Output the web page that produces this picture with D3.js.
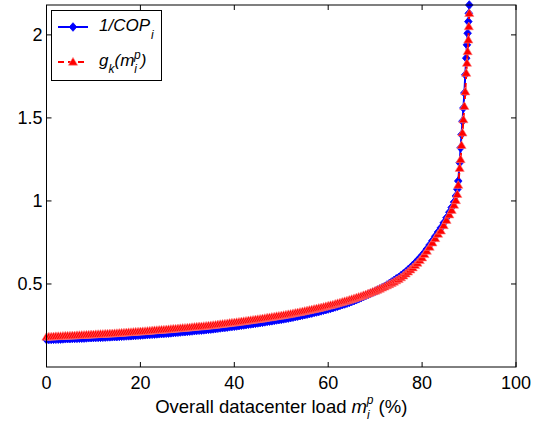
<!DOCTYPE html>
<html>
<head>
<meta charset="utf-8">
<script src="https://cdn.jsdelivr.net/npm/d3@7"></script>
<style>
  body { margin: 0; background: #fff; }
  text { font-family: "Liberation Sans", Arial, sans-serif; }
</style>
</head>
<body>
<script>
// overall datacenter load (%) at each sample
const load = [
  0, 0.5, 1, 1.5, 2, 2.5, 3, 3.5, 4, 4.5,
  5, 5.5, 6, 6.5, 7, 7.5, 8, 8.5, 9, 9.5,
  10, 10.5, 11, 11.5, 12, 12.5, 13, 13.5, 14, 14.5,
  15, 15.5, 16, 16.5, 17, 17.5, 18, 18.5, 19, 19.5,
  20, 20.5, 21, 21.5, 22, 22.5, 23, 23.5, 24, 24.5,
  25, 25.5, 26, 26.5, 27, 27.5, 28, 28.5, 29, 29.5,
  30, 30.5, 31, 31.5, 32, 32.5, 33, 33.5, 34, 34.5,
  35, 35.5, 36, 36.5, 37, 37.5, 38, 38.5, 39, 39.5,
  40, 40.5, 41, 41.5, 42, 42.5, 43, 43.5, 44, 44.5,
  45, 45.5, 46, 46.5, 47, 47.5, 48, 48.5, 49, 49.5,
  50, 50.5, 51, 51.5, 52, 52.5, 53, 53.5, 54, 54.5,
  55, 55.5, 56, 56.5, 57, 57.5, 58, 58.5, 59, 59.5,
  60, 60.5, 61, 61.5, 62, 62.5, 63, 63.5, 64, 64.5,
  65, 65.5, 66, 66.5, 67, 67.5, 68, 68.5, 69, 69.5,
  70, 70.5, 71, 71.5, 72, 72.5, 73, 73.5, 74, 74.5,
  75, 75.5, 76, 76.5, 77, 77.5, 78, 78.5, 79, 79.5,
  80,
  80.5, 81, 81.6, 82.2, 82.8, 83.4, 84, 84.6, 85.2, 85.8, 86.3, 86.8, 87.2, 87.5,
  87.7, 88, 88.2, 88.4, 88.6, 88.8, 89, 89.2, 89.4, 89.55, 89.7, 89.85, 89.95, 90.05
];

// 1/COP_i
const invCOP = [
  .165, .1655, .166, .1665, .167, .1675, .168, .169, .170, .1705,
  .171, .1715, .172, .1725, .173, .1735, .174, .175, .176, .1765,
  .177, .1775, .178, .1785, .179, .180, .181, .1815, .182, .1825,
  .183, .184, .185, .186, .187, .1875, .188, .189, .190, .191,
  .192, .193, .194, .195, .196, .197, .198, .199, .200, .201,
  .202, .203, .204, .2055, .207, .208, .209, .2105, .212, .213,
  .214, .2155, .217, .2185, .220, .221, .222, .2235, .225, .2265,
  .228, .2295, .231, .233, .235, .2365, .238, .240, .242, .2435,
  .245, .247, .249, .251, .253, .255, .257, .259, .261, .263,
  .265, .267, .269, .2715, .274, .276, .278, .2805, .283, .285,
  .287, .2895, .292, .2945, .297, .300, .303, .306, .309, .312,
  .315, .318, .321, .3245, .328, .331, .334, .338, .342, .3455,
  .349, .353, .357, .3615, .366, .3705, .375, .3795, .384, .389,
  .394, .3995, .405, .411, .417, .4235, .430, .4365, .443, .4495,
  .456, .463, .470, .4775, .485, .4935, .502, .5115, .521, .531,
  .539, .550, .561, .572, .585, .598, .612, .626, .641, .656,
  .672,
  .690, .710, .735, .761, .787, .813, .838, .868, .899, .932, .961, .993, 1.03, 1.07,
  1.12, 1.23, 1.32, 1.40, 1.48, 1.56, 1.65, 1.76, 1.86, 1.94, 2.01, 2.08, 2.13, 2.18
];

// g_k(m_i^p)
const gk = [
  .181, .1815, .182, .183, .184, .1845, .185, .186, .187, .1875,
  .188, .1885, .189, .190, .191, .1915, .192, .193, .194, .1945,
  .195, .196, .197, .1975, .198, .199, .200, .2005, .201, .202,
  .203, .204, .205, .206, .207, .208, .209, .210, .211, .212,
  .213, .214, .215, .216, .217, .2185, .220, .221, .222, .223,
  .224, .225, .226, .2275, .229, .230, .231, .2325, .234, .235,
  .236, .2375, .239, .2405, .242, .243, .244, .2455, .247, .2485,
  .250, .2515, .253, .255, .257, .2585, .260, .262, .264, .2655,
  .267, .269, .271, .273, .275, .277, .279, .281, .283, .285,
  .287, .289, .291, .2935, .296, .298, .300, .3025, .305, .307,
  .309, .3115, .314, .3165, .319, .322, .325, .3275, .330, .333,
  .336, .339, .342, .345, .348, .351, .354, .3575, .361, .3645,
  .368, .3715, .375, .379, .383, .387, .391, .395, .399, .4035,
  .408, .4125, .417, .4215, .426, .431, .436, .4415, .447, .4525,
  .458, .464, .470, .4765, .483, .490, .497, .5045, .512, .520,
  .528, .538, .549, .561, .573, .5855, .598, .612, .626, .642,
  .658,
  .678, .698, .722, .748, .774, .80, .82, .852, .884, .917, .944, .975, 1.003, 1.04,
  1.095, 1.197, 1.25, 1.335, 1.41, 1.49, 1.57, 1.658, 1.77, 1.83, 1.9, 1.97, 2.05, 2.13
];

const xTicks = [0, 20, 40, 60, 80, 100];
const yTicks = [0.5, 1, 1.5, 2];

const width = 549, height = 423;
const mLeft = 46.5, mRight = 516, mTop = 5, mBottom = 367;

const svg = d3.select("body").append("svg")
  .attr("width", width)
  .attr("height", height);

const x = d3.scaleLinear().domain([0, 100]).range([mLeft, mRight]);
const y = d3.scaleLinear().domain([0, 2.18]).range([mBottom, mTop]);

// ticks inside the box, on all four sides
const tickLen = 5;
const axes = svg.append("g").attr("stroke", "#000").attr("stroke-width", 1);

axes.selectAll(".xt").data(xTicks).enter().append("path")
  .attr("d", d => `M${x(d)},${mBottom}v${-tickLen}M${x(d)},${mTop}v${tickLen}`);
axes.selectAll(".yt").data(yTicks).enter().append("path")
  .attr("d", d => `M${mLeft},${y(d)}h${tickLen}M${mRight},${y(d)}h${-tickLen}`);

svg.selectAll(".xl").data(xTicks).enter().append("text")
  .attr("x", d => x(d))
  .attr("y", mBottom + 22)
  .attr("text-anchor", "middle")
  .attr("font-size", 18)
  .text(d => d);

svg.selectAll(".yl").data(yTicks).enter().append("text")
  .attr("x", mLeft - 4)
  .attr("y", d => y(d))
  .attr("dy", ".35em")
  .attr("text-anchor", "end")
  .attr("font-size", 18)
  .text(d => d);

// series
const pts = load.map((l, i) => ({ l: l, a: invCOP[i], b: gk[i] }));

const diamond = "M0,-4.3L3.8,0L0,4.3L-3.8,0Z";
const triangle = "M0,-4.6L4.6,3.2L-4.6,3.2Z";

const lineA = d3.line().x(d => x(d.l)).y(d => y(d.a));
const lineB = d3.line().x(d => x(d.l)).y(d => y(d.b));

svg.append("path")
  .datum(pts)
  .attr("d", lineA)
  .attr("fill", "none")
  .attr("stroke", "#0000ff")
  .attr("stroke-width", 2);

svg.append("g").selectAll("path").data(pts).enter().append("path")
  .attr("transform", d => `translate(${x(d.l)},${y(d.a)})`)
  .attr("d", diamond)
  .attr("fill", "#0000ff")
  .attr("stroke", "#0000ff")
  .attr("stroke-width", 0.8);

svg.append("path")
  .datum(pts)
  .attr("d", lineB)
  .attr("fill", "none")
  .attr("stroke", "#ff0000")
  .attr("stroke-width", 2)
  .attr("stroke-dasharray", "6,4");

svg.append("g").selectAll("path").data(pts).enter().append("path")
  .attr("transform", d => `translate(${x(d.l)},${y(d.b)})`)
  .attr("d", triangle)
  .attr("fill", "#ff0000")
  .attr("stroke", "#ff8080")
  .attr("stroke-width", 0.6);

// box
svg.append("rect")
  .attr("x", mLeft).attr("y", mTop)
  .attr("width", mRight - mLeft).attr("height", mBottom - mTop)
  .attr("fill", "none")
  .attr("stroke", "#000")
  .attr("stroke-width", 1);

// x label
const xl = svg.append("text")
  .attr("x", (mLeft + mRight) / 2)
  .attr("y", 413)
  .attr("text-anchor", "middle")
  .attr("font-size", 18.5);
xl.append("tspan").text("Overall datacenter load ");
xl.append("tspan").attr("font-style", "italic").text("m");
xl.append("tspan").attr("font-style", "italic").attr("font-size", 12).attr("dy", 6).text("i");
xl.append("tspan").attr("font-style", "italic").attr("font-size", 12).attr("dx", -3).attr("dy", -15).text("p");
xl.append("tspan").attr("dy", 9).text(" (%)");

// legend
const lg = svg.append("g");
lg.append("rect")
  .attr("x", 51.5).attr("y", 10.5)
  .attr("width", 110).attr("height", 70)
  .attr("fill", "#fff")
  .attr("stroke", "#000");

lg.append("line")
  .attr("x1", 58).attr("x2", 88).attr("y1", 27).attr("y2", 27)
  .attr("stroke", "#0000ff").attr("stroke-width", 2);
lg.append("path")
  .attr("transform", "translate(73,27)")
  .attr("d", diamond)
  .attr("fill", "#0000ff").attr("stroke", "#0000ff").attr("stroke-width", 0.8);

lg.append("line")
  .attr("x1", 58).attr("x2", 88).attr("y1", 62).attr("y2", 62)
  .attr("stroke", "#ff0000").attr("stroke-width", 2)
  .attr("stroke-dasharray", "6,4").attr("stroke-dashoffset", 0);
lg.append("path")
  .attr("transform", "translate(73,62)")
  .attr("d", triangle)
  .attr("fill", "#ff0000").attr("stroke", "#ff8080").attr("stroke-width", 0.6);

const t1 = lg.append("text")
  .attr("x", 99).attr("y", 31)
  .attr("font-size", 17).attr("font-style", "italic");
t1.append("tspan").text("1/COP");
t1.append("tspan").attr("font-size", 12).attr("dy", 8).attr("dx", 1).text("i");

const t2 = lg.append("text")
  .attr("x", 99).attr("y", 66)
  .attr("font-size", 17).attr("font-style", "italic");
t2.append("tspan").text("g");
t2.append("tspan").attr("font-size", 12).attr("dy", 7).text("k");
t2.append("tspan").attr("dy", -7).text("(m");
t2.append("tspan").attr("font-size", 12).attr("dy", 7).text("i");
t2.append("tspan").attr("font-size", 12).attr("dx", -3).attr("dy", -14).text("p");
t2.append("tspan").attr("dy", 7).text(")");
</script>
</body>
</html>
